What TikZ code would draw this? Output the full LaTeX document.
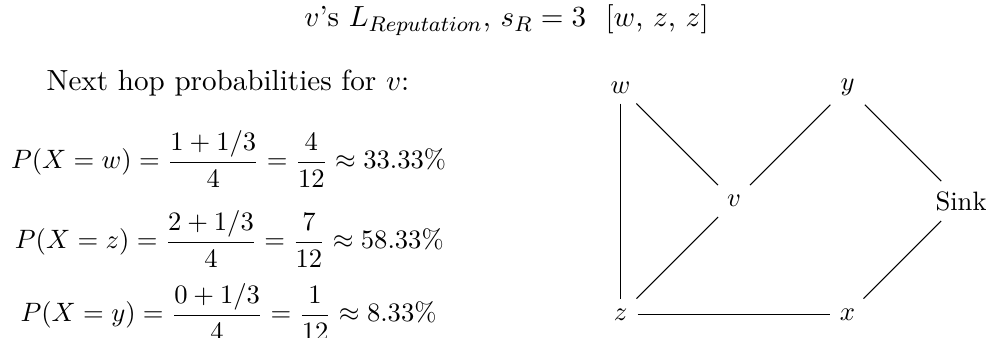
\documentclass[tikz,border=0pt,11pt]{standalone}
\usepackage{amsmath}
\usetikzlibrary{positioning}

\begin{document}
\begin{tikzpicture}[prob/.style={font=\small}]
    \clip (0,0) rectangle (13.03,4.454);

    % Title
    \node (title) at (6.694,4.19) {$v$'s $L_{Reputation}$, $s_R = 3$~~[$w$, $z$, $z$]};

    % Probabilities
    \node (hop) at (3.013,3.357) {Next hop probabilities for $v$:};
    \node[prob] (pw) at (3.02,2.352) {$\displaystyle P(X=w) = \frac{1+1/3}{4} = \frac{4}{12} \approx 33.33\%$};
    \node[prob] (pz) at (3.03,1.295) {$\displaystyle P(X=z) = \frac{2+1/3}{4} = \frac{7}{12} \approx 58.33\%$};
    \node[prob] (py) at (3.02,0.33) {$\displaystyle P(X=y) = \frac{0+1/3}{4} = \frac{1}{12} \approx 8.33\%$};

    % Graph
    \begin{scope}[shift={(8.2,0.297)}, x=1.5cm, y=1.5cm, every node/.style={font=\small}]
        \node (z) at (0,0) {$z$};
        \node (w) at (0,2) {$w$};
        \node (v) at (1,1) {$v$};
        \node (y) at (2,2) {$y$};
        \node (sink) at (3,1) {Sink};
        \node (x) at (2,0) {$x$};

        % Edges
        \draw (w) -- (z);
        \draw (w) -- (v);
        \draw (v) -- (y);
        \draw (v) -- (z);
        \draw (y) -- (sink);
        \draw (sink) -- (x);
        \draw (z) -- (x);
    \end{scope}
\end{tikzpicture}
\end{document}
